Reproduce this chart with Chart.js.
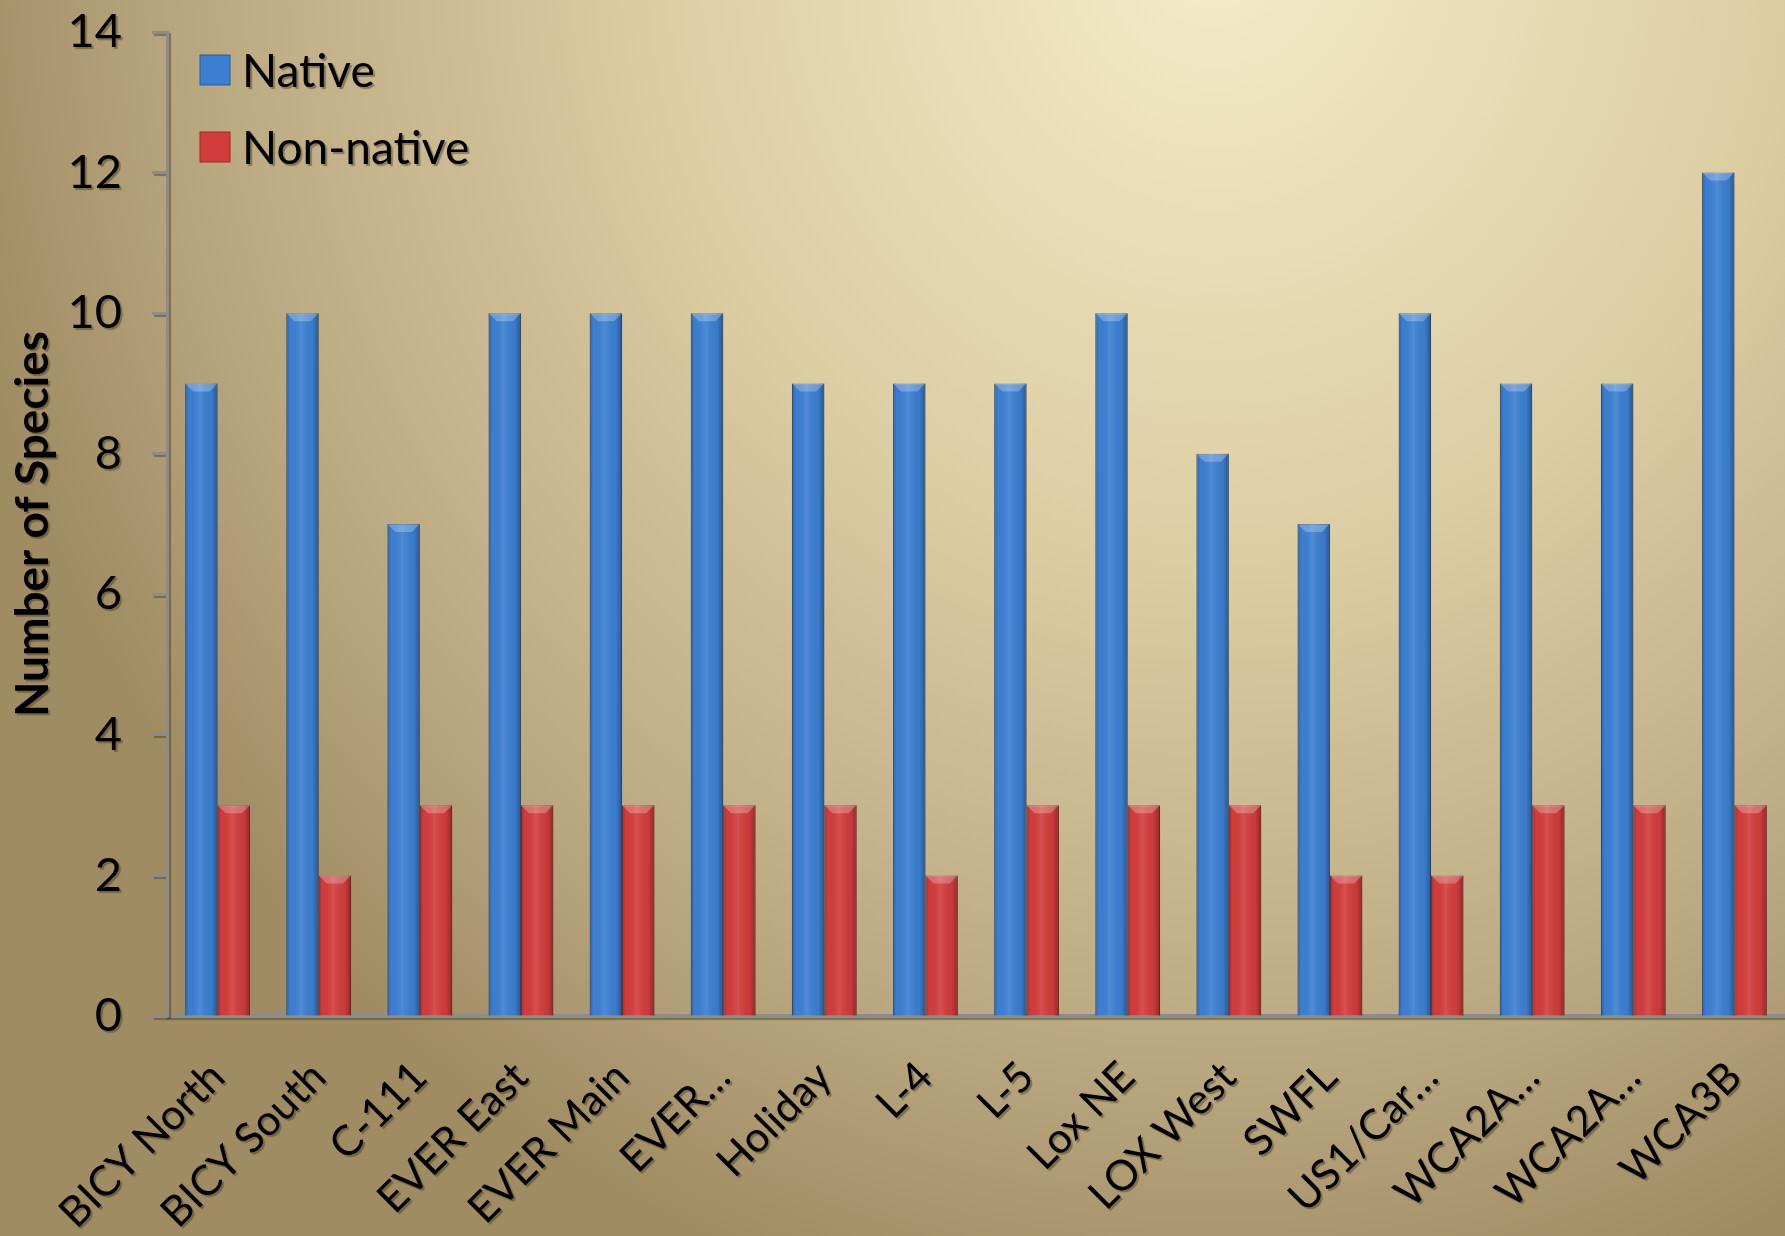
<!DOCTYPE html>
<html>
<head>
<meta charset="utf-8">
<script src="https://cdn.jsdelivr.net/npm/chart.js@4.4.0/dist/chart.umd.min.js"></script>
<style>
  html, body { margin: 0; padding: 0; background: #c8b68c; }
  #wrap { width: 1785px; height: 1236px; }
</style>
</head>
<body>
<div id="wrap"><canvas id="species"></canvas></div>
<script>
// sites and counts
var sites = ['BICY North', 'BICY South', 'C-111', 'EVER East', 'EVER Main', 'EVER…',
    'Holiday', 'L-4', 'L-5', 'Lox NE', 'LOX West', 'SWFL', 'US1/Car…', 'WCA2A…', 'WCA2A…', 'WCA3B'];
var nativeCounts = [9, 10, 7, 10, 10, 10, 9, 9, 9, 10, 8, 7, 10, 9, 9, 12];
var nonNativeCounts = [3, 2, 3, 3, 3, 3, 3, 2, 3, 3, 3, 2, 2, 3, 3, 3];
var yTicks = [0, 2, 4, 6, 8, 10, 12, 14];

var FONT = 'Lato, "Open Sans", sans-serif';
var SHADOW = 'rgba(60,50,30,0.45)';

// paper background: an oval light patch near the top right, darker elsewhere
var backdrop = {
    id: 'backdrop',
    beforeDraw: function (chart) {
        var c = chart.ctx, w = chart.width, h = chart.height;
        c.save();
        c.translate(w * 0.68, -h * 0.05);
        c.scale(1, 1.1);
        var g = c.createRadialGradient(0, 0, 0, 0, 0, w * 0.72);
        g.addColorStop(0, '#f5ecca');
        g.addColorStop(0.45, '#dccca2');
        g.addColorStop(0.8, '#b9a780');
        g.addColorStop(1, '#a08c63');
        c.fillStyle = g;
        c.fillRect(-w, -h, w * 3, h * 3);
        c.restore();
        // soft shadow under the axis text
        c.shadowColor = SHADOW;
        c.shadowOffsetX = 2;
        c.shadowOffsetY = 2;
        c.shadowBlur = 1;
    },
    beforeDatasetsDraw: function (chart) {
        var c = chart.ctx;
        c.shadowColor = 'rgba(0,0,0,0)';
        c.shadowOffsetX = 0;
        c.shadowOffsetY = 0;
        c.shadowBlur = 0;
    }
};

// bevel shading on each bar
var bevel = {
    id: 'bevel',
    afterDatasetsDraw: function (chart) {
        var c = chart.ctx;
        chart.data.datasets.forEach(function (ds, i) {
            chart.getDatasetMeta(i).data.forEach(function (bar) {
                var left = bar.x - bar.width / 2, right = bar.x + bar.width / 2;
                var g = c.createLinearGradient(left, 0, right, 0);
                g.addColorStop(0, 'rgba(0,0,0,0.22)');
                g.addColorStop(0.12, 'rgba(0,0,0,0)');
                g.addColorStop(0.45, 'rgba(255,255,255,0.10)');
                g.addColorStop(0.82, 'rgba(0,0,0,0.04)');
                g.addColorStop(1, 'rgba(0,0,0,0.32)');
                c.save();
                c.fillStyle = g;
                c.fillRect(left, bar.y, bar.width, bar.base - bar.y);
                // light cap at the top
                c.fillStyle = 'rgba(255,255,255,0.25)';
                c.beginPath();
                c.moveTo(left, bar.y);
                c.lineTo(right, bar.y);
                c.lineTo(right - bar.width * 0.25, bar.y + 8);
                c.lineTo(left + bar.width * 0.25, bar.y + 8);
                c.closePath();
                c.fill();
                c.restore();
            });
        });
    }
};

// legend drawn inside the plot area, top left
var innerLegend = {
    id: 'innerLegend',
    afterDraw: function (chart) {
        var c = chart.ctx, a = chart.chartArea;
        c.save();
        c.font = '46px ' + FONT;
        c.textBaseline = 'middle';
        chart.data.datasets.forEach(function (ds, i) {
            var y = a.top + 38 + i * 77;
            var x = a.left + 33;
            c.fillStyle = ds.backgroundColor;
            c.fillRect(x, y - 15, 30, 30);
            c.strokeStyle = ds.borderColor;
            c.lineWidth = 1;
            c.strokeRect(x, y - 15, 30, 30);
            c.shadowColor = SHADOW;
            c.shadowOffsetX = 2;
            c.shadowOffsetY = 2;
            c.shadowBlur = 1;
            c.fillStyle = '#000';
            c.fillText(ds.label, x + 42, y + 2);
            c.shadowColor = 'rgba(0,0,0,0)';
        });
        c.restore();
    }
};

new Chart(document.getElementById('species'), {
    type: 'bar',
    data: {
        labels: sites,
        datasets: [{
            label: 'Native',
            data: nativeCounts,
            backgroundColor: '#3b7fd2',
            borderColor: '#2b5c9c',
            borderWidth: 1
        }, {
            label: 'Non-native',
            data: nonNativeCounts,
            backgroundColor: '#d23c3c',
            borderColor: '#9c2a2a',
            borderWidth: 1
        }]
    },
    options: {
        responsive: true,
        maintainAspectRatio: false,
        animation: false,
        layout: { padding: { top: 32, right: 0, left: 0, bottom: 0 } },
        datasets: {
            bar: { categoryPercentage: 0.64, barPercentage: 1.0 }
        },
        plugins: {
            legend: { display: false },
            tooltip: { enabled: false }
        },
        scales: {
            x: {
                grid: { display: false, drawTicks: false },
                border: { display: true, color: '#8c8c8c', width: 4 },
                ticks: {
                    color: '#000',
                    font: { family: FONT, size: 42 },
                    maxRotation: 45,
                    minRotation: 45,
                    padding: 36,
                    autoSkip: false
                },
                afterFit: function (scale) {
                    scale.height = 220;
                    scale.paddingLeft = 0;
                    scale.paddingRight = 0;
                }
            },
            y: {
                min: 0,
                max: 14,
                afterBuildTicks: function (scale) {
                    scale.ticks = yTicks.map(function (v) { return { value: v }; });
                },
                grid: {
                    drawOnChartArea: false,
                    drawTicks: true,
                    tickLength: 15,
                    tickWidth: 3,
                    tickColor: '#8c8c8c'
                },
                border: { display: true, color: '#8c8c8c', width: 3 },
                ticks: {
                    color: '#000',
                    font: { family: FONT, size: 47 },
                    padding: 30
                },
                title: {
                    display: true,
                    text: 'Number of Species',
                    color: '#000',
                    font: { family: FONT, size: 46, weight: 'bold' },
                    padding: { top: 6, bottom: 0 }
                },
                afterFit: function (scale) {
                    scale.width = 167;
                    scale.paddingTop = 0;
                    scale.paddingBottom = 0;
                }
            }
        }
    },
    plugins: [backdrop, bevel, innerLegend]
});
</script>
</body>
</html>
